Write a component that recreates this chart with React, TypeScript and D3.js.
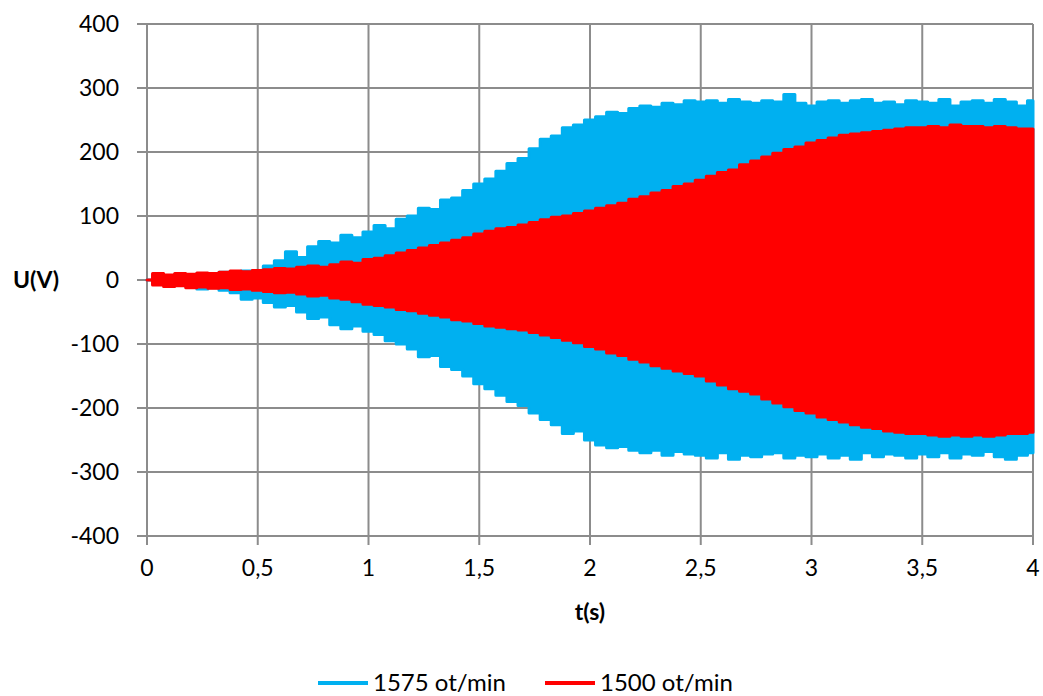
import React from "react";
import { scaleLinear, area, curveStep, range } from "d3";

const width = 1043;
const height = 696;
const margin = { top: 24, right: 10, bottom: 160, left: 147 };
const innerWidth = 1033 - margin.left;
const innerHeight = 536 - margin.top;

// time step of the envelope samples (s)
const tStep = 0.05;
const times = range(81).map(i => +(i * tStep).toFixed(2));

const xTicks = [0, 0.5, 1, 1.5, 2, 2.5, 3, 3.5, 4];
const xTickLabels = ["0", "0,5", "1", "1,5", "2", "2,5", "3", "3,5", "4"];
const yTicks = [400, 300, 200, 100, 0, -100, -200, -300, -400];

// 1575 ot/min - upper / lower envelope (V)
const blueHigh = [
  0, 8, 6, 9, 8, 10, 9, 12, 11, 14,
  15, 22, 30, 44, 35, 52, 60, 58, 70, 66,
  75, 85, 80, 95, 100, 112, 110, 125, 128, 140,
  150, 158, 170, 182, 190, 205, 220, 225, 238, 242,
  250, 255, 262, 260, 268, 272, 270, 276, 274, 280,
  278, 280, 276, 282, 278, 276, 280, 278, 290, 276,
  272, 278, 280, 276, 280, 282, 276, 278, 274, 280,
  278, 276, 282, 272, 278, 280, 276, 282, 278, 272,
  280,
];
const blueLow = [
  0, -6, -8, -7, -10, -14, -12, -16, -20, -30,
  -28, -35, -42, -40, -50, -60, -58, -70, -76, -72,
  -80, -85, -95, -100, -108, -120, -118, -135, -140, -150,
  -162, -170, -180, -190, -196, -208, -218, -226, -240, -236,
  -250, -258, -262, -260, -266, -270, -266, -274, -268, -272,
  -274, -278, -270, -280, -274, -276, -272, -270, -278, -274,
  -276, -272, -278, -274, -280, -270, -276, -272, -274, -278,
  -272, -276, -270, -278, -272, -274, -268, -276, -280, -274,
  -270,
];

// 1500 ot/min - upper / lower envelope (V)
const redHigh = [
  0, 10, 8, 10, 9, 11, 10, 12, 14, 13,
  15, 16, 18, 17, 20, 22, 20, 24, 28, 26,
  32, 34, 38, 42, 46, 50, 54, 58, 62, 66,
  72, 76, 80, 82, 86, 90, 94, 98, 100, 104,
  108, 112, 116, 120, 126, 130, 136, 140, 146, 150,
  156, 162, 168, 172, 180, 186, 192, 198, 204, 208,
  214, 218, 222, 226, 228, 230, 232, 234, 236, 238,
  238, 240, 238, 242, 240, 240, 238, 240, 238, 236,
  236,
];
const redLow = [
  0, -8, -10, -9, -12, -11, -13, -12, -15, -14,
  -16, -18, -20, -19, -22, -25, -24, -28, -30, -34,
  -38, -40, -42, -46, -48, -52, -55, -58, -62, -64,
  -68, -72, -74, -76, -78, -82, -86, -90, -94, -98,
  -104, -108, -114, -118, -124, -128, -134, -138, -142, -146,
  -150, -158, -164, -170, -174, -178, -186, -192, -198, -204,
  -208, -214, -218, -222, -226, -230, -232, -236, -238, -240,
  -240, -242, -244, -242, -244, -242, -244, -242, -240, -240,
  -238,
];

const seriesNames = ["1575 ot/min", "1500 ot/min"];
const colors = ["#00b0f0", "#ff0000"];

const font = "Lato, 'Open Sans', sans-serif";

const App = () => {
  const xScale = scaleLinear().domain([0, 4]).range([0, innerWidth]);
  const yScale = scaleLinear().domain([-400, 400]).range([innerHeight, 0]);

  const band = area<number>()
    .x((_, i) => xScale(times[i]))
    .curve(curveStep);

  const series = [
    { hi: blueHigh, lo: blueLow },
    { hi: redHigh, lo: redLow },
  ];

  return (
    <svg
      width={width}
      height={height}
      style={{ position: "absolute", left: 0, top: 0, background: "#fff" }}
      fontFamily={font}
    >
      <g transform={`translate(${margin.left},${margin.top})`}>
        {/* grid */}
        {yTicks.map(v => (
          <line
            key={"h" + v}
            x1={-10}
            x2={innerWidth}
            y1={yScale(v)}
            y2={yScale(v)}
            stroke="#8c8c8c"
            strokeWidth={2}
          />
        ))}
        {xTicks.map(v => (
          <line
            key={"v" + v}
            x1={xScale(v)}
            x2={xScale(v)}
            y1={0}
            y2={innerHeight + 9}
            stroke="#8c8c8c"
            strokeWidth={2}
          />
        ))}

        {/* series */}
        {series.map((s, k) => {
          const d = band.y0((_, i) => yScale(s.lo[i])).y1((_, i) => yScale(s.hi[i]))(times);
          return (
            <path
              key={k}
              d={d || ""}
              fill={colors[k]}
              stroke={colors[k]}
              strokeWidth={3}
              strokeLinejoin="round"
            />
          );
        })}

        {/* y labels */}
        {yTicks.map(v => (
          <text
            key={"yl" + v}
            x={-28}
            y={yScale(v)}
            dy="0.35em"
            textAnchor="end"
            fontSize={23}
            fill="#000"
          >
            {v}
          </text>
        ))}
        {xTicks.map((v, i) => (
          <text
            key={"xl" + v}
            x={xScale(v)}
            y={innerHeight + 32}
            dy="0.35em"
            textAnchor="middle"
            fontSize={23}
            fill="#000"
          >
            {xTickLabels[i]}
          </text>
        ))}
        <text
          x={innerWidth / 2}
          y={innerHeight + 76}
          dy="0.35em"
          textAnchor="middle"
          fontSize={23}
          fontWeight="bold"
        >
          t(s)
        </text>
        <text
          x={-111}
          y={yScale(0)}
          dy="0.35em"
          textAnchor="middle"
          fontSize={23}
          fontWeight="bold"
        >
          U(V)
        </text>
      </g>

      {/* legend */}
      {seriesNames.map((name, k) => (
        <g key={name} transform={`translate(${318 + k * 227},683)`}>
          <line x1={0} x2={50} y1={0} y2={0} stroke={colors[k]} strokeWidth={4} />
          <text x={55} y={0} dy="0.35em" fontSize={24}>
            {name}
          </text>
        </g>
      ))}
    </svg>
  );
};

export default App;
